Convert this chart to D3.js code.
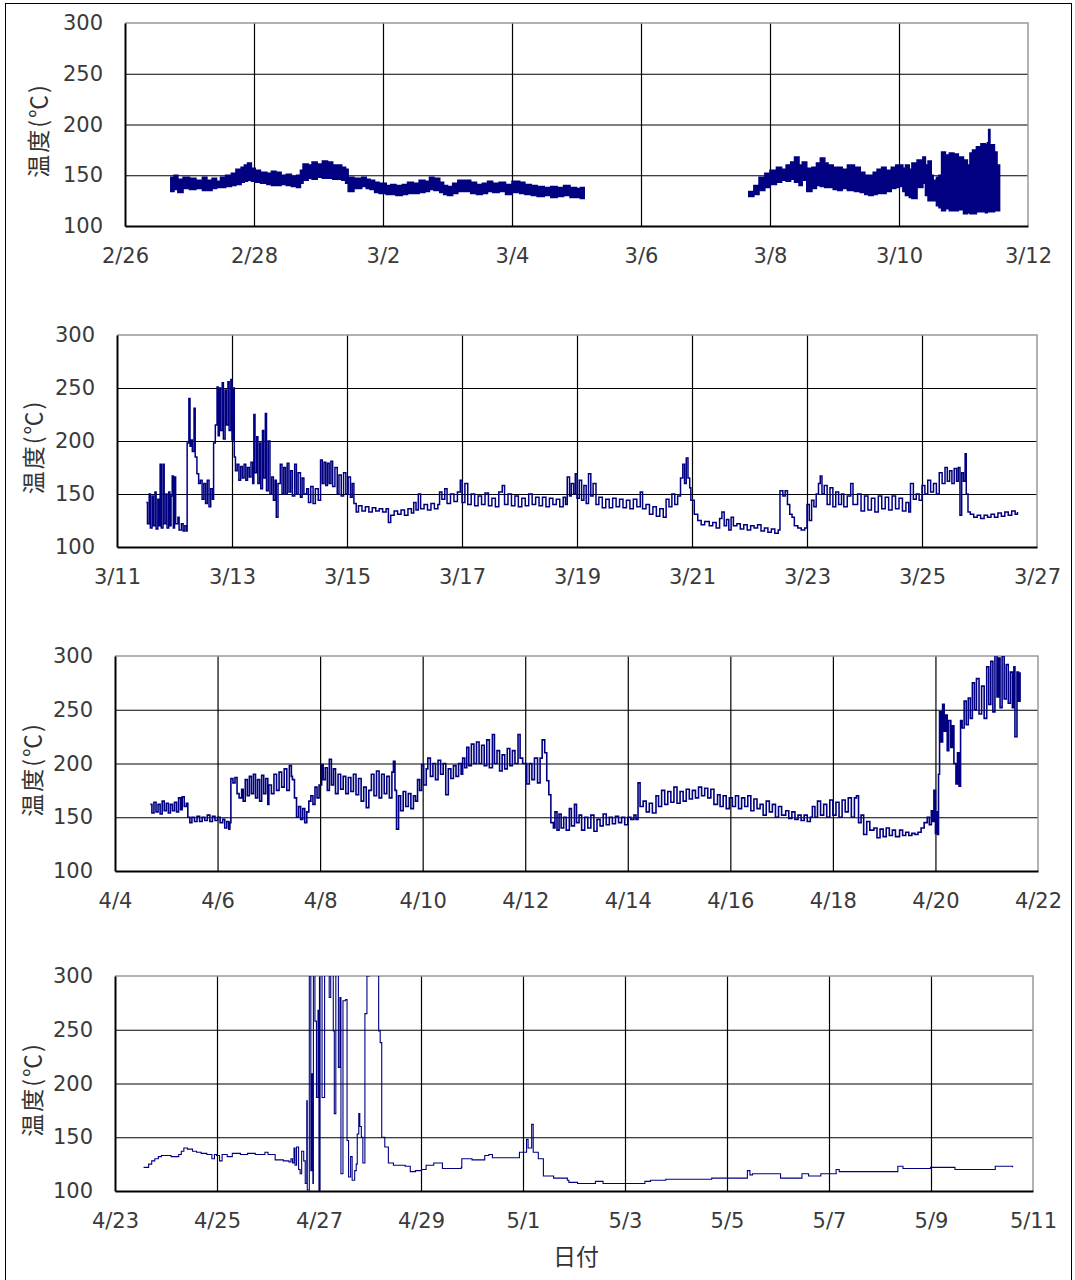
<!DOCTYPE html>
<html>
<head>
<meta charset="utf-8">
<script src="https://cdn.jsdelivr.net/npm/d3@7"></script>
<style>
  body { margin: 0; background: #fff; }
  .tick text { font-family: 'DejaVu Sans', sans-serif; font-size: 21px; fill: #3a3a3a; }
  .jp { font-family: 'Noto Sans CJK JP', sans-serif; fill: #333; }
</style>
</head>
<body>
<div class="container"></div>
<script>
/* globals d3 */

// panel start dates and spans (days)
const panelStarts = ['2009-02-26', '2009-03-11', '2009-04-04', '2009-04-23']
const panelDays = [14, 16, 18, 18]
const yTicks = [100, 150, 200, 250, 300]

// panel 1: logger trace is so dense it reads as a band -> upper / lower envelope
const p1Day = [0.71, 0.76, 0.82, 0.9, 1.0, 1.1, 1.2, 1.27, 1.35, 1.42, 1.48, 1.56, 1.65, 1.72, 1.8, 1.85, 1.9, 1.96, 2.02, 2.1, 2.2, 2.27, 2.34, 2.42, 2.5, 2.58, 2.66, 2.72, 2.76, 2.84, 2.9, 2.98, 3.06, 3.14, 3.22, 3.3, 3.36, 3.42, 3.46, 3.55, 3.67, 3.74, 3.8, 3.87, 3.94, 4.05, 4.12, 4.2, 4.3, 4.38, 4.47, 4.56, 4.65, 4.72, 4.79, 4.88, 4.94, 5.0, 5.08, 5.16, 5.27, 5.36, 5.45, 5.54, 5.62, 5.7, 5.8, 5.9, 6.0, 6.12, 6.2, 6.3, 6.39, 6.5, 6.6, 6.7, 6.8, 6.9, 7.0, 7.06, 7.12,
  null,
  9.67, 9.75, 9.83, 9.92, 10.0, 10.1, 10.18, 10.25, 10.32, 10.38, 10.45, 10.5, 10.57, 10.65, 10.72, 10.78, 10.85, 10.9, 10.98, 11.05, 11.12, 11.2, 11.31, 11.4, 11.47, 11.53, 11.6, 11.66, 11.73, 11.8, 11.88, 11.95, 12.0, 12.06, 12.1, 12.16, 12.2, 12.28, 12.37, 12.41, 12.45, 12.5, 12.53, 12.58, 12.62, 12.66, 12.72, 12.78, 12.85, 12.92, 13.0, 13.06, 13.1, 13.14, 13.2, 13.27, 13.34, 13.37, 13.39, 13.41, 13.48, 13.52, 13.56]
const p1Hi = [148, 150, 146, 148, 147, 145, 148, 145, 147, 144, 148, 150, 152, 156, 158, 160, 162, 157, 155, 153, 152, 154, 153, 150, 151, 149, 150, 155, 161, 160, 163, 161, 164, 163, 160, 160, 158, 156, 148, 147, 148, 146, 145, 143, 142, 140, 141, 140, 141, 143, 142, 145, 144, 148, 147, 143, 140, 139, 142, 145, 145, 143, 141, 142, 144, 142, 143, 141, 144, 143, 141, 140, 139, 138, 139, 138, 140, 138, 137, 138, 137,
  null,
  134, 140, 148, 152, 155, 158, 156, 160, 163, 168, 160, 163, 157, 158, 162, 167, 162, 160, 158, 158, 156, 160, 158, 153, 150, 150, 153, 156, 158, 155, 158, 160, 160, 157, 160, 156, 162, 165, 168, 160, 164, 150, 145, 148, 150, 173, 170, 172, 171, 168, 165, 160, 172, 175, 178, 181, 180, 182, 195, 180, 173, 160, 145, 145]
const p1Lo = [134, 136, 133, 137, 136, 137, 135, 135, 137, 138, 138, 139, 140, 141, 143, 144, 145, 144, 143, 142, 141, 140, 140, 141, 140, 139, 138, 142, 145, 147, 146, 148, 147, 147, 146, 146, 145, 142, 134, 137, 139, 137, 136, 133, 132, 131, 131, 130, 131, 132, 132, 133, 134, 136, 135, 133, 131, 130, 132, 134, 134, 132, 131, 132, 134, 133, 134, 131, 133, 132, 131, 130, 129, 130, 128, 129, 130, 128, 128, 127, 127,
  null,
  129, 131, 135, 138, 141, 143, 145, 144, 146, 143, 140, 145, 134, 137, 140, 139, 138, 138, 136, 135, 137, 135, 134, 133, 131, 130, 131, 132, 132, 134, 137, 138, 139, 134, 130, 128, 127, 138, 142, 130, 125, 125, 125, 120, 118, 115, 117, 115, 115, 116, 112, 113, 112, 112, 114, 114, 113, 114, 114, 114, 115, 115, 115, 115]

// panel 2: [day, degC]
const p2Series = [[0.51, 142], [0.53, 122], [0.56, 150], [0.58, 118], [0.61, 148], [0.63, 120], [0.66, 152], [0.68, 117], [0.71, 145], [0.73, 120], [0.75, 178], [0.77, 118], [0.8, 178], [0.82, 122], [0.85, 150], [0.87, 118], [0.9, 152], [0.92, 120], [0.94, 148], [0.96, 167], [0.98, 118], [1.0, 166], [1.02, 122], [1.06, 128], [1.08, 116], [1.12, 122], [1.15, 115], [1.18, 120], [1.21, 115],
  [1.22, 198], [1.25, 240], [1.27, 195], [1.29, 201], [1.31, 190], [1.34, 231], [1.36, 185], [1.39, 169], [1.42, 160], [1.45, 163], [1.48, 145], [1.51, 160], [1.54, 141], [1.57, 163], [1.6, 138], [1.63, 155], [1.66, 145], [1.68, 198], [1.71, 215], [1.74, 251], [1.76, 205], [1.78, 250], [1.8, 210], [1.83, 255], [1.85, 202], [1.88, 248], [1.9, 215], [1.93, 256], [1.95, 210], [1.98, 258], [2.0, 201], [2.02, 250], [2.04, 185],
  [2.06, 172], [2.09, 178], [2.12, 163], [2.15, 176], [2.18, 165], [2.21, 178], [2.24, 163], [2.27, 175], [2.3, 166], [2.33, 180], [2.36, 160], [2.38, 225], [2.4, 170], [2.43, 204], [2.45, 160], [2.48, 198], [2.5, 155], [2.53, 210], [2.55, 165], [2.58, 226], [2.6, 153], [2.63, 200], [2.66, 150], [2.69, 166], [2.72, 144], [2.75, 163], [2.77, 128], [2.8, 160],
  [2.84, 178], [2.87, 150], [2.9, 175], [2.93, 150], [2.96, 179], [2.99, 152], [3.02, 172], [3.05, 148], [3.09, 178], [3.12, 150], [3.15, 170], [3.19, 147], [3.22, 165], [3.25, 150], [3.3, 155], [3.33, 142], [3.37, 157], [3.41, 141], [3.45, 155], [3.5, 144],
  [3.54, 182], [3.57, 160], [3.6, 180], [3.63, 158], [3.66, 179], [3.69, 160], [3.72, 181], [3.75, 157], [3.79, 175], [3.83, 150], [3.86, 168], [3.9, 148], [3.94, 170], [3.98, 150], [4.02, 166], [4.06, 147], [4.09, 160], [4.12, 141],
  [4.16, 133], [4.2, 139], [4.26, 134], [4.32, 138], [4.38, 133], [4.44, 137], [4.5, 134], [4.56, 136], [4.62, 133], [4.68, 136], [4.72, 123], [4.76, 130], [4.82, 134], [4.88, 131], [4.94, 135], [5.0, 130], [5.06, 136], [5.12, 132], [5.16, 142], [5.2, 135], [5.24, 150], [5.28, 136], [5.34, 140], [5.4, 135], [5.46, 141], [5.52, 136], [5.58, 140],
  [5.61, 152], [5.65, 145], [5.7, 155], [5.74, 141], [5.8, 150], [5.86, 143], [5.92, 152], [5.97, 163], [6.0, 142], [6.05, 160], [6.1, 140], [6.16, 150], [6.22, 139], [6.28, 148], [6.34, 140], [6.4, 151], [6.46, 139], [6.52, 146], [6.58, 138], [6.64, 152], [6.7, 158], [6.74, 140], [6.8, 150], [6.86, 139], [6.92, 148], [6.98, 138], [7.04, 146], [7.1, 139], [7.16, 150], [7.22, 140], [7.28, 147], [7.34, 139], [7.4, 147], [7.46, 138], [7.52, 146], [7.58, 140], [7.64, 145], [7.7, 138], [7.76, 147], [7.8, 140],
  [7.83, 166], [7.87, 148], [7.9, 160], [7.94, 150], [7.97, 169], [8.0, 146], [8.04, 163], [8.08, 144], [8.12, 158], [8.16, 141], [8.2, 169], [8.24, 148], [8.28, 160], [8.33, 140], [8.38, 147], [8.44, 137], [8.5, 145], [8.56, 137], [8.62, 146], [8.68, 138], [8.74, 145], [8.8, 137], [8.86, 144], [8.92, 136], [8.98, 145], [9.04, 138], [9.1, 152], [9.14, 136],
  [9.2, 140], [9.26, 131], [9.32, 138], [9.38, 129], [9.44, 136], [9.5, 128], [9.55, 145], [9.6, 138], [9.65, 150], [9.7, 140], [9.75, 148], [9.8, 165], [9.84, 178], [9.87, 160], [9.9, 184], [9.93, 165], [9.96, 156], [9.98, 144],
  [10.04, 131], [10.1, 125], [10.16, 121], [10.22, 124], [10.3, 120], [10.36, 123], [10.42, 118], [10.48, 127], [10.52, 133], [10.56, 120], [10.6, 126], [10.64, 116], [10.68, 128], [10.72, 120], [10.78, 122], [10.84, 117], [10.9, 121], [10.96, 116], [11.02, 120], [11.08, 118], [11.14, 121], [11.2, 115], [11.26, 118], [11.32, 114], [11.38, 117], [11.44, 113], [11.5, 116],
  [11.53, 153], [11.58, 148], [11.62, 153], [11.66, 140], [11.7, 131], [11.74, 128], [11.78, 120], [11.84, 118], [11.9, 116], [11.96, 118], [12.0, 140], [12.04, 125], [12.08, 144], [12.12, 138], [12.16, 150], [12.2, 160], [12.23, 167], [12.26, 150], [12.3, 158], [12.35, 140], [12.4, 156], [12.45, 138], [12.5, 152], [12.55, 140], [12.6, 150], [12.64, 138], [12.7, 148], [12.76, 160], [12.8, 140],
  [12.88, 150], [12.94, 134], [13.0, 148], [13.06, 135], [13.12, 146], [13.18, 133], [13.24, 148], [13.3, 136], [13.36, 147], [13.42, 135], [13.48, 148], [13.54, 136], [13.6, 146], [13.66, 134], [13.72, 142], [13.77, 133], [13.8, 160], [13.85, 145], [13.9, 150], [13.95, 144],
  [14.0, 158], [14.05, 150], [14.1, 163], [14.15, 152], [14.2, 160], [14.25, 150], [14.3, 170], [14.35, 160], [14.4, 175], [14.44, 162], [14.48, 172], [14.52, 160], [14.56, 174], [14.6, 162], [14.63, 175], [14.66, 130], [14.69, 170], [14.72, 162], [14.75, 188], [14.77, 150],
  [14.8, 133], [14.84, 131], [14.9, 128], [14.96, 130], [15.02, 127], [15.08, 130], [15.14, 128], [15.2, 131], [15.26, 128], [15.32, 132], [15.38, 129], [15.44, 133], [15.5, 130], [15.56, 134], [15.62, 131], [15.66, 133]]

// panel 3
const p3Series = [[0.69, 162], [0.72, 154], [0.76, 164], [0.8, 155], [0.84, 162], [0.88, 153], [0.92, 165], [0.96, 156], [1.0, 163], [1.04, 154], [1.08, 162], [1.12, 156], [1.16, 164], [1.2, 155], [1.24, 168], [1.28, 157], [1.31, 169], [1.35, 160], [1.39, 163],
  [1.42, 150], [1.46, 145], [1.5, 150], [1.55, 146], [1.6, 151], [1.65, 146], [1.7, 150], [1.75, 147], [1.8, 152], [1.85, 146], [1.9, 151], [1.95, 147], [2.0, 150], [2.05, 145], [2.1, 148], [2.14, 140], [2.18, 146], [2.22, 139], [2.24, 145],
  [2.26, 186], [2.3, 182], [2.34, 187], [2.38, 172], [2.42, 168], [2.47, 176], [2.5, 165], [2.54, 185], [2.58, 170], [2.62, 188], [2.66, 172], [2.7, 190], [2.74, 168], [2.78, 185], [2.82, 165], [2.86, 189], [2.9, 172], [2.94, 186], [2.98, 162], [3.0, 180], [3.05, 172], [3.1, 190], [3.15, 175], [3.2, 192], [3.25, 178], [3.3, 195], [3.35, 175], [3.4, 198], [3.44, 188], [3.46, 185],
  [3.5, 168], [3.54, 150], [3.58, 160], [3.62, 148], [3.66, 158], [3.7, 145], [3.74, 155], [3.78, 165], [3.82, 170], [3.86, 162], [3.9, 178], [3.94, 168], [3.98, 180],
  [4.03, 199], [4.06, 185], [4.1, 196], [4.14, 175], [4.18, 204], [4.22, 180], [4.26, 195], [4.3, 172], [4.35, 190], [4.4, 176], [4.45, 188], [4.5, 172], [4.55, 187], [4.6, 174], [4.65, 190], [4.7, 171], [4.75, 186], [4.8, 165], [4.85, 178], [4.9, 159], [4.95, 175],
  [5.0, 190], [5.05, 170], [5.1, 193], [5.15, 168], [5.2, 190], [5.25, 172], [5.3, 188], [5.35, 168], [5.4, 192], [5.43, 202], [5.46, 175], [5.49, 139], [5.53, 170], [5.57, 156], [5.62, 174], [5.67, 160], [5.72, 172], [5.77, 158], [5.82, 170], [5.86, 165],
  [5.9, 185], [5.94, 175], [5.98, 199], [6.02, 180], [6.07, 195], [6.1, 205], [6.15, 188], [6.2, 200], [6.25, 185], [6.3, 203], [6.35, 190], [6.4, 200], [6.45, 171], [6.5, 195], [6.55, 186], [6.6, 198], [6.65, 188], [6.7, 200], [6.75, 190],
  [6.78, 205], [6.82, 196], [6.86, 215], [6.9, 198], [6.95, 218], [7.0, 200], [7.05, 220], [7.1, 200], [7.15, 217], [7.2, 198], [7.25, 222], [7.3, 196], [7.36, 227], [7.4, 200], [7.45, 212], [7.5, 193], [7.55, 208], [7.6, 195], [7.65, 214], [7.7, 198], [7.75, 212], [7.8, 200], [7.86, 227], [7.9, 205], [7.95, 200],
  [8.03, 181], [8.08, 200], [8.13, 185], [8.18, 205], [8.24, 182], [8.29, 205], [8.33, 222], [8.38, 210], [8.42, 184], [8.46, 171],
  [8.5, 145], [8.55, 140], [8.58, 155], [8.62, 138], [8.66, 153], [8.7, 140], [8.75, 150], [8.8, 138], [8.86, 158], [8.9, 142], [8.96, 162], [9.0, 145], [9.05, 152], [9.1, 138], [9.16, 150], [9.22, 140], [9.28, 152], [9.34, 137], [9.4, 148], [9.46, 142], [9.52, 153], [9.58, 143], [9.64, 150], [9.7, 144], [9.76, 151], [9.82, 145], [9.88, 150], [9.94, 143], [10.0, 150], [10.06, 148], [10.12, 152], [10.16, 148],
  [10.2, 182], [10.24, 160], [10.3, 165], [10.36, 155], [10.42, 163], [10.48, 154], [10.55, 170], [10.6, 160], [10.66, 175], [10.72, 162], [10.78, 174], [10.84, 164], [10.9, 178], [10.96, 163], [11.02, 174], [11.08, 165], [11.14, 176], [11.2, 167], [11.26, 175], [11.32, 168], [11.38, 178], [11.44, 170], [11.5, 177], [11.56, 168], [11.62, 176], [11.68, 162],
  [11.75, 171], [11.8, 160], [11.86, 170], [11.92, 158], [11.98, 168], [12.04, 160], [12.1, 170], [12.16, 158], [12.22, 168], [12.28, 160], [12.34, 170], [12.4, 156], [12.46, 167], [12.52, 158], [12.58, 162], [12.64, 152], [12.7, 165], [12.76, 155], [12.82, 162], [12.88, 150], [12.94, 160], [13.0, 152],
  [13.08, 156], [13.14, 149], [13.2, 155], [13.26, 148], [13.32, 152], [13.38, 147], [13.44, 152], [13.5, 146], [13.56, 150], [13.6, 160], [13.65, 150], [13.7, 165], [13.76, 152], [13.82, 162], [13.88, 150], [13.94, 166], [14.0, 152], [14.06, 164], [14.12, 150], [14.18, 166], [14.24, 155], [14.3, 168], [14.36, 150], [14.42, 168], [14.46, 170],
  [14.5, 145], [14.55, 152], [14.6, 134], [14.66, 146], [14.72, 138], [14.8, 140], [14.86, 131], [14.92, 139], [14.98, 132], [15.04, 140], [15.1, 133], [15.16, 138], [15.22, 132], [15.3, 138], [15.36, 133], [15.42, 136], [15.48, 133], [15.54, 135], [15.6, 134], [15.66, 136],
  [15.72, 140], [15.78, 145], [15.84, 150], [15.88, 143], [15.92, 156], [15.95, 146], [15.97, 175], [16.0, 135], [16.02, 155], [16.04, 134], [16.06, 190],
  [16.08, 248], [16.11, 220], [16.14, 255], [16.17, 230], [16.2, 245], [16.23, 212], [16.26, 240], [16.3, 215], [16.33, 235], [16.36, 200], [16.4, 181], [16.43, 210], [16.46, 179],
  [16.49, 240], [16.52, 233], [16.56, 258], [16.6, 236], [16.64, 261], [16.68, 242], [16.72, 275], [16.76, 250], [16.8, 279], [16.85, 246], [16.9, 272], [16.95, 242], [17.0, 290], [17.04, 255], [17.08, 295], [17.12, 248], [17.16, 302], [17.2, 262], [17.23, 298], [17.26, 252], [17.3, 300], [17.34, 260], [17.38, 292], [17.42, 256], [17.46, 285], [17.5, 252], [17.53, 290], [17.55, 225], [17.59, 285], [17.62, 258], [17.65, 285]]

// panel 4
const p4Series = [[0.56, 122], [0.62, 122], [0.66, 125], [0.72, 128], [0.78, 130], [0.85, 132], [0.91, 133], [1.0, 133], [1.1, 132], [1.25, 134], [1.3, 137], [1.35, 140], [1.42, 139], [1.52, 137], [1.6, 136], [1.69, 135], [1.8, 134], [1.9, 130], [1.95, 134], [1.99, 133], [2.05, 128], [2.1, 134], [2.2, 132], [2.3, 135], [2.46, 134], [2.6, 135], [2.75, 134], [2.94, 136], [3.0, 134], [3.14, 129], [3.3, 128], [3.41, 127],
  [3.45, 130], [3.48, 126], [3.51, 140], [3.53, 124], [3.56, 141], [3.6, 120], [3.63, 116], [3.66, 137], [3.7, 128], [3.73, 107], [3.76, 184], [3.77, 101], [3.81, 305], [3.84, 119], [3.86, 209], [3.88, 107], [3.89, 305], [3.92, 258], [3.95, 187], [3.98, 268], [4.0, 101], [4.02, 305], [4.06, 187], [4.11, 305], [4.17, 305], [4.2, 280], [4.23, 305], [4.28, 249], [4.3, 172], [4.33, 305], [4.38, 215], [4.41, 280], [4.43, 116], [4.47, 277], [4.52, 278], [4.55, 147], [4.58, 113], [4.62, 132], [4.65, 110], [4.7, 119], [4.73, 125], [4.75, 153], [4.78, 172], [4.8, 160], [4.83, 150], [4.86, 126], [4.9, 265], [4.94, 300], [4.99, 305], [5.14, 305], [5.17, 249], [5.2, 238], [5.23, 150],
  [5.29, 141], [5.36, 126], [5.46, 124], [5.69, 123], [5.79, 118], [5.89, 119], [6.01, 120], [6.1, 124], [6.25, 126], [6.38, 126], [6.42, 121], [6.79, 122], [6.8, 130], [7.0, 129], [7.19, 129], [7.25, 133], [7.33, 134], [7.4, 131], [7.8, 131], [7.93, 136], [8.07, 148], [8.1, 140], [8.17, 162], [8.2, 136], [8.3, 130], [8.34, 130],
  [8.4, 114], [8.6, 112], [8.87, 110], [8.9, 108], [9.07, 107], [9.4, 107], [9.42, 109], [9.55, 109], [9.57, 107], [10.35, 107], [10.39, 109], [10.5, 110], [10.76, 110], [10.8, 111], [11.63, 111], [11.7, 112], [12.37, 112], [12.4, 119], [12.45, 115], [12.5, 116], [13.04, 116], [13.05, 112], [13.44, 112], [13.47, 116], [13.6, 114], [13.7, 114], [13.84, 116], [14.1, 116], [14.14, 120], [14.2, 118], [15.18, 118], [15.35, 123], [15.45, 121], [15.99, 122], [16.46, 122], [16.47, 120], [16.99, 120], [17.26, 123], [17.55, 123], [17.6, 122]]

;(function () {
  var W = 1075
  var H = 1280
  var navy = '#000080'

  // plot area of each panel, in px
  var frames = [
    { left: 125, right: 1028, top: 23, bottom: 226, labelX: 39 },
    { left: 117, right: 1037, top: 335, bottom: 547, labelX: 34 },
    { left: 115, right: 1038, top: 656, bottom: 871, labelX: 33 },
    { left: 115, right: 1033, top: 976, bottom: 1191, labelX: 33 }
  ]
  var lineSeries = [null, p2Series, p3Series, p4Series]
  var lineWidths = [0, 1.5, 1.6, 1.1]

  var parseDate = d3.timeParse('%Y-%m-%d')
  var fmt = d3.timeFormat('%-m/%-d')

  var svg = d3.select('.container')
              .append('svg')
              .attr('width', W)
              .attr('height', H)

  svg.append('rect')
     .attr('x', 5.5)
     .attr('y', 3.5)
     .attr('width', 1066)
     .attr('height', H + 10)
     .attr('fill', '#fff')
     .attr('stroke', '#000')

  frames.forEach(function (f, i) {
    var start = parseDate(panelStarts[i])
    var days = panelDays[i]
    var dayTicks = d3.range(0, days + 1, 2)

    var xScale = d3.scaleLinear().domain([0, days]).range([f.left, f.right])
    var yScale = d3.scaleLinear().domain([100, 300]).range([f.bottom, f.top])

    var g = svg.append('g').attr('class', 'panel')

    // grid
    g.append('g')
     .attr('transform', 'translate(0,' + f.bottom + ')')
     .call(d3.axisBottom(xScale)
             .tickValues(dayTicks.slice(1, -1))
             .tickSize(-(f.bottom - f.top))
             .tickFormat(''))
     .call(function (s) {
       s.select('.domain').remove()
       s.selectAll('.tick line').attr('stroke', '#000').attr('stroke-width', 1.2)
     })

    g.append('g')
     .attr('transform', 'translate(' + f.left + ',0)')
     .call(d3.axisLeft(yScale)
             .tickValues(yTicks.slice(1, -1))
             .tickSize(-(f.right - f.left))
             .tickFormat(''))
     .call(function (s) {
       s.select('.domain').remove()
       s.selectAll('.tick line').attr('stroke', '#000').attr('stroke-width', 1.2)
     })

    // top + right border in grey
    g.append('path')
     .attr('d', 'M' + f.left + ',' + f.top + 'H' + f.right + 'V' + f.bottom)
     .attr('fill', 'none')
     .attr('stroke', '#999')
     .attr('stroke-width', 1.5)

    // data
    var clipId = 'clip' + i
    g.append('clipPath')
     .attr('id', clipId)
     .append('rect')
     .attr('x', f.left)
     .attr('y', f.top)
     .attr('width', f.right - f.left)
     .attr('height', f.bottom - f.top)

    var plot = g.append('g').attr('clip-path', 'url(#' + clipId + ')')

    if (i === 0) {
      var band = p1Day.map(function (d, k) {
        return { day: d, hi: p1Hi[k], lo: p1Lo[k] }
      })
      var area = d3.area()
                   .defined(function (d) { return d.day !== null })
                   .curve(d3.curveStepAfter)
                   .x(function (d) { return xScale(d.day) })
                   .y0(function (d) { return yScale(d.lo) })
                   .y1(function (d) { return yScale(d.hi) })
      plot.append('path')
          .attr('d', area(band))
          .attr('fill', navy)
          .attr('stroke', navy)
          .attr('stroke-width', 1.5)
    } else {
      var line = d3.line()
                   .curve(d3.curveStepAfter)
                   .x(function (d) { return xScale(d[0]) })
                   .y(function (d) { return yScale(d[1]) })
      plot.append('path')
          .attr('d', line(lineSeries[i]))
          .attr('fill', 'none')
          .attr('stroke', navy)
          .attr('stroke-width', lineWidths[i])
    }

    // axes (left + bottom in black)
    g.append('g')
     .attr('transform', 'translate(0,' + f.bottom + ')')
     .call(d3.axisBottom(xScale)
             .tickValues(dayTicks)
             .tickSize(0)
             .tickPadding(22)
             .tickFormat(function (d) { return fmt(d3.timeDay.offset(start, d)) }))
     .call(function (s) {
       s.select('.domain').attr('stroke', '#000').attr('stroke-width', 2)
     })

    g.append('g')
     .attr('transform', 'translate(' + f.left + ',0)')
     .call(d3.axisLeft(yScale)
             .tickValues(yTicks)
             .tickSize(0)
             .tickPadding(22))
     .call(function (s) {
       s.select('.domain').attr('stroke', '#000').attr('stroke-width', 2)
     })

    // y title
    var cy = (f.top + f.bottom) / 2 + 6
    g.append('text')
     .attr('class', 'jp')
     .attr('transform', 'translate(' + f.labelX + ',' + cy + ') rotate(-90)')
     .attr('text-anchor', 'middle')
     .attr('dy', '0.36em')
     .style('font-size', '23px')
     .style('letter-spacing', '2px')
     .text('温度(℃)')
  })

  svg.append('text')
     .attr('class', 'jp')
     .attr('x', 576)
     .attr('y', 1257)
     .attr('dy', '0.36em')
     .attr('text-anchor', 'middle')
     .style('font-size', '23px')
     .text('日付')
}())
</script>
</body>
</html>
